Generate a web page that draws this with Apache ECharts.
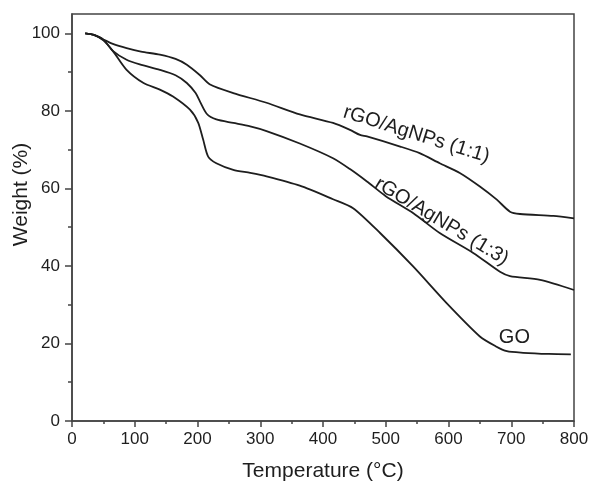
<!DOCTYPE html>
<html>
<head>
<meta charset="utf-8">
<script src="https://cdn.jsdelivr.net/npm/echarts@6/dist/echarts.min.js"></script>
<style>
  html, body { margin: 0; padding: 0; background: #fff; }
  #tga { width: 590px; height: 482px; }
</style>
</head>
<body>
<div id="tga"></div>
<script>
// TGA curves, [temperature °C, weight %]
const goData = [
  [21, 100], [35, 99.6], [50, 98.2], [65, 95.5], [87, 90.6], [114, 87.2], [140, 85.5],
  [161, 83.7], [188, 80.3], [201, 77], [209, 72.6], [217, 68.2], [230, 66.5],
  [257, 64.8], [284, 64], [310, 63.1], [363, 60.7], [416, 57.2], [448, 54.9],
  [491, 48.5], [544, 39.8], [597, 30.4], [650, 21.8], [675, 19.3], [693, 18],
  [719, 17.6], [760, 17.3], [795, 17.2]
]
const ag13Data = [
  [21, 100], [35, 99.6], [50, 98.4], [65, 95.5], [87, 93.2], [108, 92], [140, 90.6],
  [165, 89.2], [183, 87.2], [197, 84.6], [204, 82.4], [215, 79.2], [230, 77.8],
  [257, 76.9], [284, 76], [310, 74.8], [363, 71.6], [416, 67.8], [443, 65],
  [470, 61.8], [500, 58], [544, 53.6], [586, 48.5], [640, 43.3], [682, 38.5],
  [698, 37.4], [746, 36.4], [800, 33.8]
]
const ag11Data = [
  [21, 100], [35, 99.6], [50, 98.4], [65, 97.3], [87, 96.2], [110, 95.3], [140, 94.5],
  [165, 93.4], [183, 91.9], [204, 89.2], [220, 86.8], [257, 84.6], [310, 82.1],
  [363, 79.1], [416, 76.9], [443, 75.1], [459, 73.8], [470, 73.4], [523, 70.8],
  [554, 69.1], [586, 66.5], [618, 64], [650, 60.5], [677, 57.1], [698, 54],
  [714, 53.4], [767, 52.9], [800, 52.3]
]
const seriesNames = ['GO', 'rGO/AgNPs (1:3)', 'rGO/AgNPs (1:1)']
// label anchor [x, y] in data units and rotation
const labelAt = [[705, 21.5], [589, 51.5], [549, 73.9]]
const labelRotate = [0, -31, -17.5]
const yMajor = [0, 20, 40, 60, 80, 100]
const yMinor = [10, 30, 50, 70, 90]

const font = 'Liberation Sans, Arial, Helvetica, sans-serif'
const ink = '#1e1e1e'
const axisColor = '#444'

const makeSeries = (data, i) => ({
  name: seriesNames[i],
  type: 'line',
  data: data,
  smooth: 0.25,
  symbol: 'none',
  lineStyle: { color: ink, width: 1.8 },
  markPoint: {
    symbol: 'circle',
    symbolSize: 0,
    silent: true,
    data: [{ coord: labelAt[i] }],
    label: {
      show: true,
      formatter: seriesNames[i],
      position: 'inside',
      rotate: labelRotate[i],
      color: ink,
      fontFamily: font,
      fontSize: 20
    }
  }
})

let myChart = echarts.init(document.getElementById('tga'))
let option = {
  animation: false,
  backgroundColor: '#fff',
  grid: {
    left: 72,
    right: 16,
    top: 14,
    bottom: 61,
    outerBoundsMode: 'none',
    show: true,
    borderColor: axisColor,
    borderWidth: 1.5
  },
  xAxis: {
    type: 'value',
    min: 0,
    max: 800,
    interval: 100,
    name: 'Temperature (°C)',
    nameLocation: 'middle',
    nameGap: 40,
    nameMoveOverlap: false,
    nameTextStyle: { color: ink, fontFamily: font, fontSize: 21 },
    axisLine: { lineStyle: { color: axisColor, width: 1.5 } },
    axisTick: { length: 6, lineStyle: { color: axisColor, width: 1.5 } },
    minorTick: { show: true, splitNumber: 2, length: 3, lineStyle: { color: axisColor, width: 1.5 } },
    axisLabel: { color: ink, fontFamily: font, fontSize: 17, margin: 10 },
    splitLine: { show: false }
  },
  yAxis: [
    {
      type: 'value',
      min: 0,
      max: 105,
      name: 'Weight (%)',
      nameLocation: 'middle',
      nameGap: 40,
      nameMoveOverlap: false,
      // name sits a bit above the middle of the axis in the original
      nameTextStyle: { color: ink, fontFamily: font, fontSize: 21, padding: [0, 0, 0, 46] },
      axisLine: { lineStyle: { color: axisColor, width: 1.5 } },
      axisTick: { customValues: yMajor, length: 7, lineStyle: { color: axisColor, width: 1.5 } },
      axisLabel: { customValues: yMajor, color: ink, fontFamily: font, fontSize: 17, margin: 12 },
      splitLine: { show: false }
    },
    {
      type: 'value',
      position: 'left',
      min: 0,
      max: 105,
      axisLine: { show: false },
      axisTick: { show: true, customValues: yMinor, length: 4, lineStyle: { color: axisColor, width: 1.5 } },
      axisLabel: { show: false },
      splitLine: { show: false }
    }
  ],
  series: [makeSeries(goData, 0), makeSeries(ag13Data, 1), makeSeries(ag11Data, 2)]
}
myChart.setOption(option)
</script>
</body>
</html>
